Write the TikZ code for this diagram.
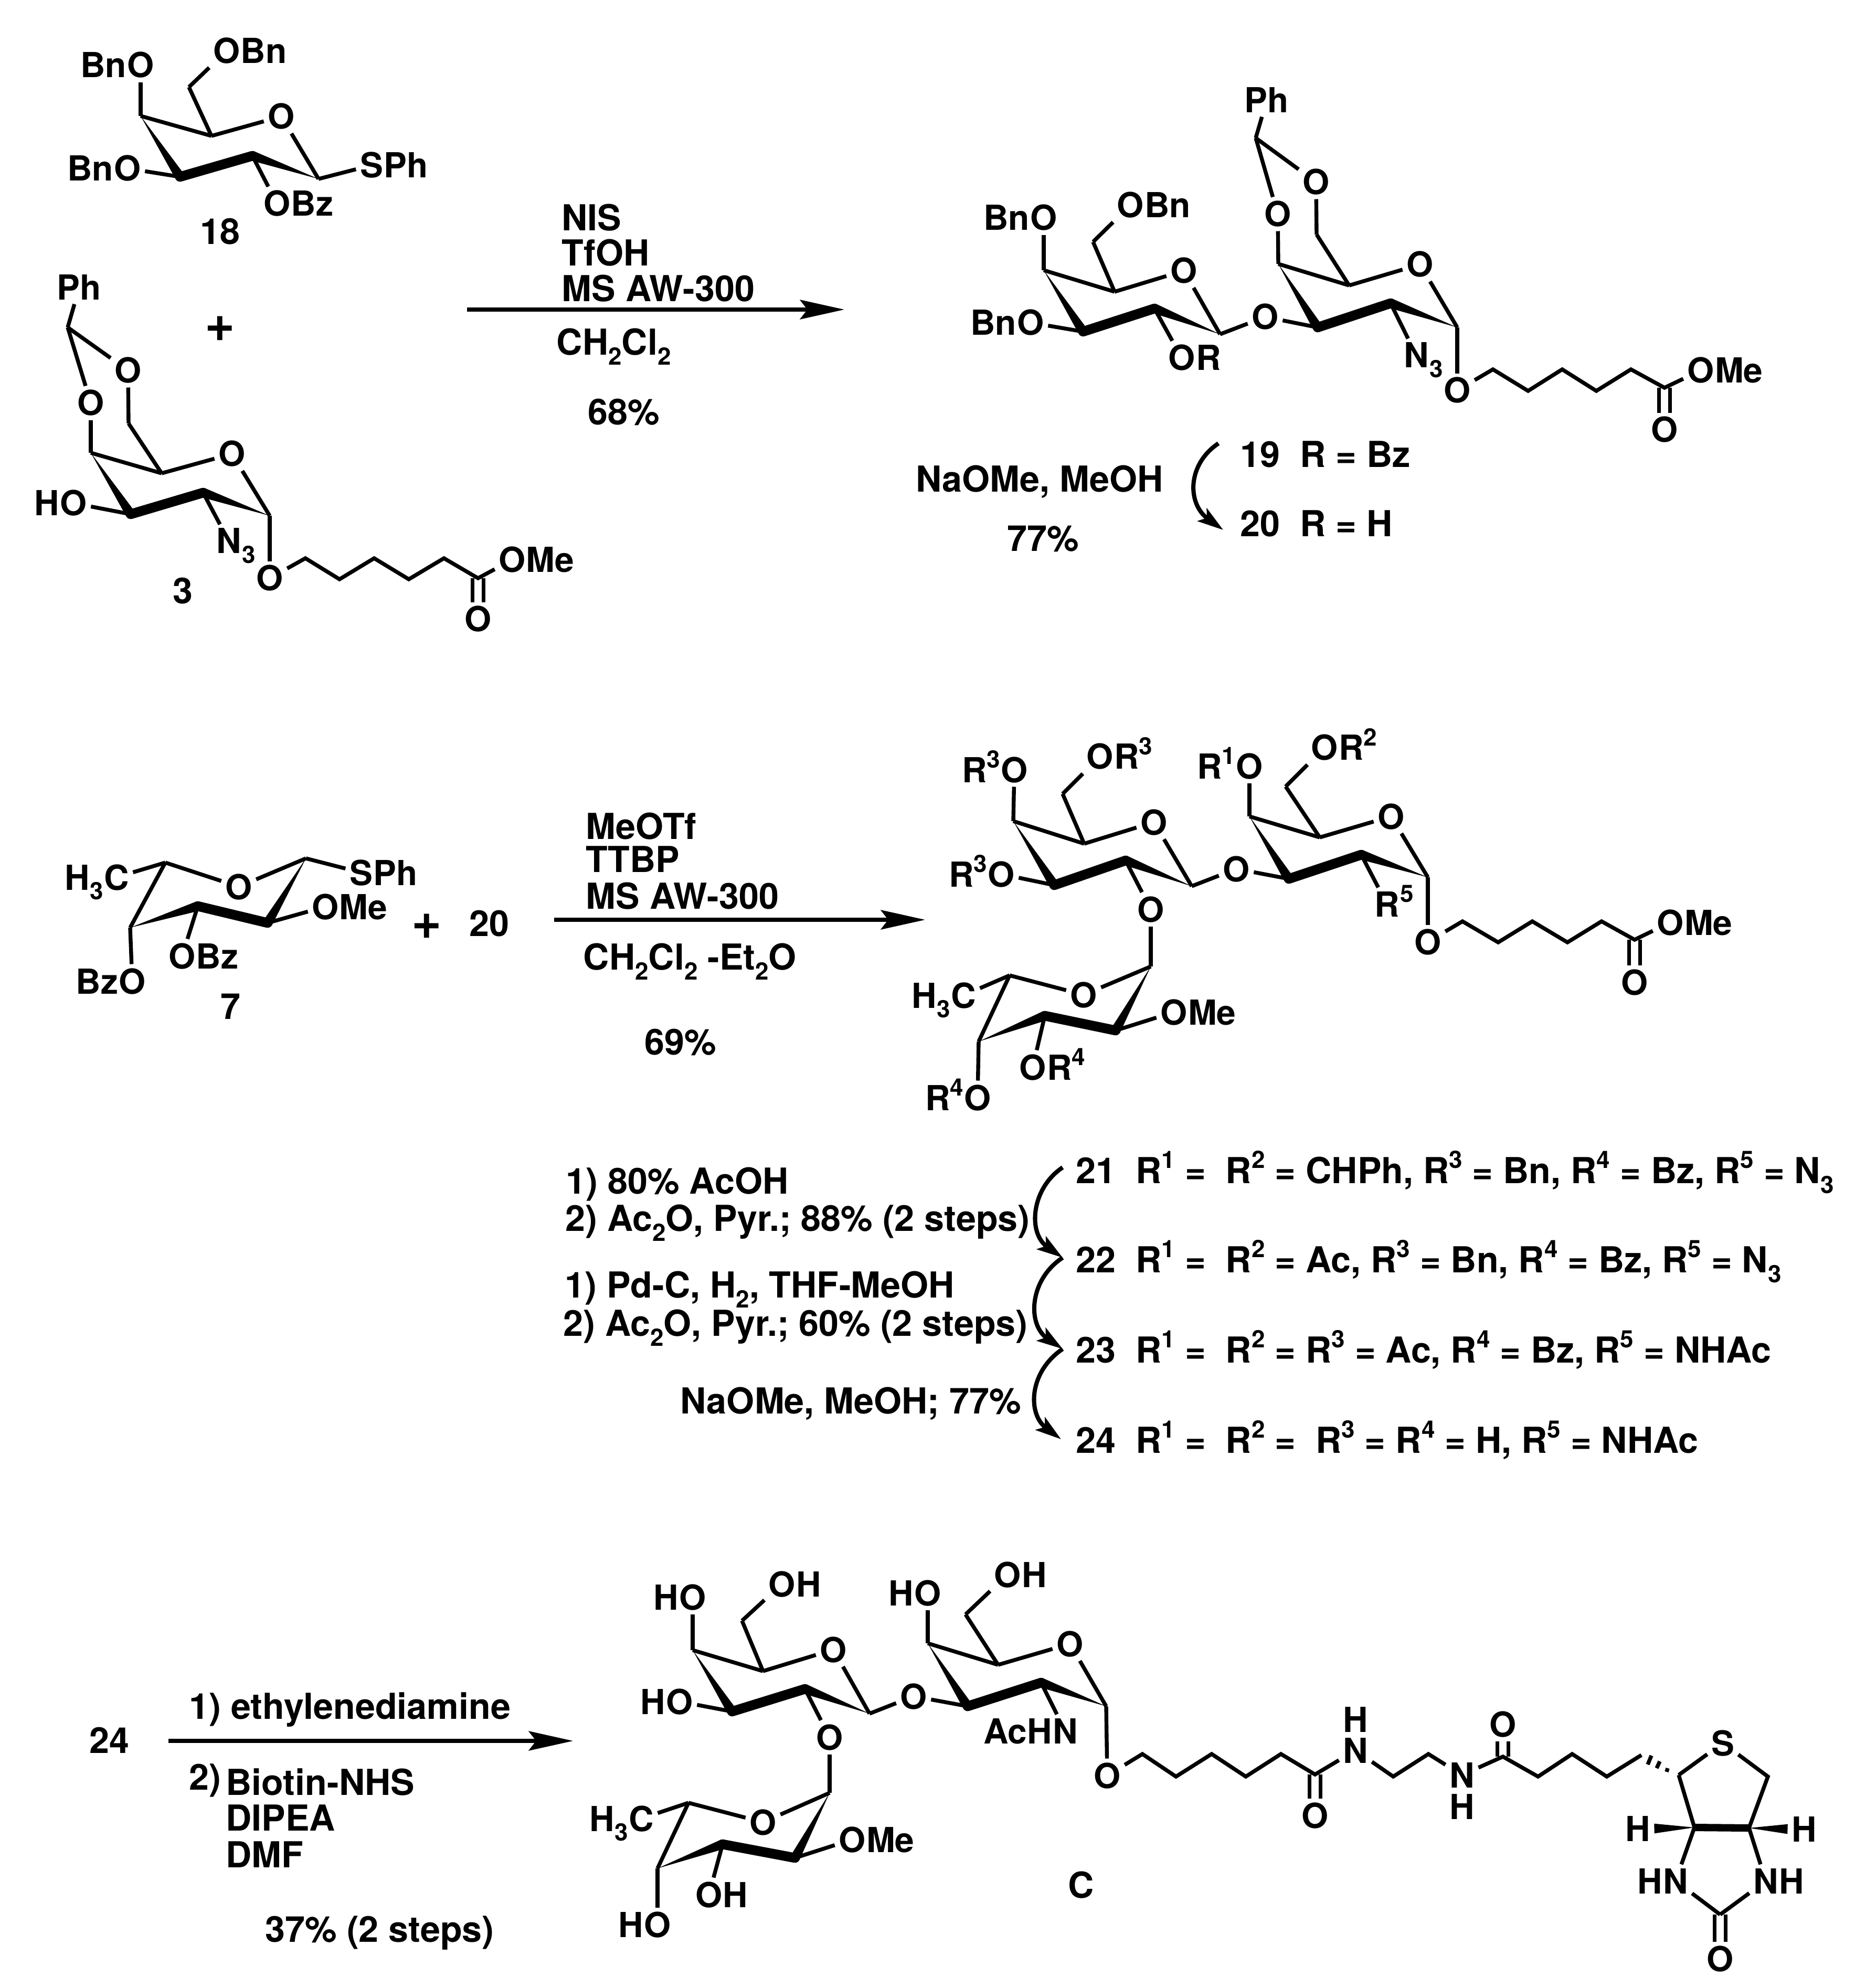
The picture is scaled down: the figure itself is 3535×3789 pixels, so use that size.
\documentclass[tikz,border=0pt]{standalone}
\usepackage{fontspec}
\setmainfont{TeX Gyre Heros}
\usetikzlibrary{calc,arrows.meta}
\newcommand\chemfont{\fontsize{18.7}{20}\selectfont\bfseries}
\newcommand\capfont{\fontsize{19.4}{21}\selectfont\bfseries}
\newcommand\sbs[1]{\raisebox{-0.28em}[0pt][0pt]{\fontsize{13}{13}\selectfont #1}}
\newcommand\sps[1]{\raisebox{0.42em}[0pt][0pt]{\fontsize{13}{13}\selectfont #1}}
\tikzset{
  atom/.style={rectangle,inner sep=2pt,font=\chemfont},
  aff/.style={inner sep=0pt,font=\chemfont},
  txt/.style={inner sep=0pt,font=\capfont,anchor=base west},
  ctr/.style={inner sep=0pt,font=\capfont,anchor=center},
  plusmark/.style={inner sep=0pt,font=\fontsize{28}{28}\selectfont\bfseries,anchor=center},
  bond/.style={line width=2.1pt,line cap=butt,line join=miter},
  boldb/.style={line width=5.3pt,line cap=round,line join=round},
  dbl/.style={line width=2pt,double,double distance=4pt},
  rxn/.style={line width=2.1pt,-{Stealth[length=24pt,width=10.5pt,inset=4pt]}},
  curv/.style={line width=2.3pt,-{Stealth[length=14pt,width=8.5pt,inset=3pt]}}
}
\newcommand\Cd[3]{\coordinate (#1) at (#2,#3);}
\newcommand\Lb[4]{\node[atom] (#1) at (#2,#3) {#4};}
\newcommand\Pre[2]{\node[aff,anchor=base east,xshift=2pt] (#1p) at (#1.base west) {#2};}
\newcommand\Suf[2]{\node[aff,anchor=base west,xshift=-2pt] (#1s) at (#1.base east) {#2};}
\newcommand\Tx[4]{\node[txt] (#1) at (#2,#3+24) {#4};}
\newcommand\Cn[4]{\node[ctr] (#1) at (#2,#3) {#4};}
\newcommand\Hl[3]{\node[aff] (#1) at (#2,#3) {H};}
\newcommand\Bd[2]{\draw[bond] (#1)--(#2);}
\newcommand\Bb[2]{\draw[boldb] (#1)--(#2);}
\newcommand\Db[2]{\draw[dbl] (#1)--(#2);}
\newcommand\Wd[2]{\fill (#1) -- ($(#2)!2.65pt!90:(#1)$) -- ($(#2)!2.65pt!-90:(#1)$) -- cycle;}
\begin{document}
\begin{tikzpicture}[x=0.01cm,y=-0.01cm]
\useasboundingbox (0,0) rectangle (3535,3789);
% ---------- 18
\Cd{a4}{268}{221}\Cd{a5}{403}{259}\Cd{a3}{343}{337}\Cd{a2}{481}{297}\Cd{a1}{607}{341}\Cd{a6}{360}{166}
\Lb{aO}{536}{222}{O}\Lb{aO6}{432}{97}{O}\Suf{aO6}{Bn}\Lb{aO4}{268}{124}{O}\Pre{aO4}{Bn}
\Lb{aO3}{243}{321}{O}\Pre{aO3}{Bn}\Lb{aO2}{528}{388}{O}\Suf{aO2}{Bz}\Lb{aS}{708}{315}{S}\Suf{aS}{Ph}
\Bd{a4}{a5}\Bd{a5}{aO}\Bd{aO}{a1}\Bd{a4}{aO4}\Bd{a3}{aO3}\Bd{a2}{aO2}\Bd{a1}{aS}\Bd{a5}{a6}\Bd{a6}{aO6}
\Wd{a4}{a3}\Wd{a1}{a2}\Bb{a3}{a2}
\Cn{l18}{419}{441}{18}\node[plusmark] (plus1) at (419,627) {+};
% ---------- 3
\Cd{bCH}{129}{624}\Cd{b6}{245}{807}\Cd{b4}{173}{863}\Cd{b5}{308}{902}\Cd{b3}{249}{980}\Cd{b2}{387}{939}\Cd{b1}{514}{983}
\Lb{bPh}{151}{548}{Ph}\Lb{bO1}{244}{706}{O}\Lb{bO2}{173}{768}{O}\Lb{bO}{442}{865}{O}\Lb{bOH}{140}{959}{O}\Pre{bOH}{H}
\Lb{bN}{436}{1031}{N}\Suf{bN}{\sbs{3}}\Lb{bOa}{514}{1102}{O}\Lb{bOM}{976}{1067}{O}\Suf{bOM}{Me}\Lb{bOd}{911}{1180}{O}
\Cd{bc1}{582}{1064}\Cd{bc2}{647}{1104}\Cd{bc3}{713}{1064}\Cd{bc4}{779}{1104}\Cd{bc5}{846}{1064}\Cd{bc6}{911}{1102}
\Db{bc6}{bOd}
\Bd{bCH}{bPh}\Bd{bCH}{bO1}\Bd{bCH}{bO2}\Bd{bO1}{b6}\Bd{bO2}{b4}\Bd{b6}{b5}\Bd{b4}{b5}\Bd{b5}{bO}\Bd{bO}{b1}
\Bd{b3}{bOH}\Bd{b2}{bN}\Bd{b1}{bOa}
\draw[bond] (bOa)--(bc1)--(bc2)--(bc3)--(bc4)--(bc5)--(bc6)--(bOM);
\Wd{b4}{b3}\Wd{b1}{b2}\Bb{b3}{b2}
\Cn{l3}{348}{1126}{3}
% ---------- reaction 1
\Tx{r1a}{1070}{415}{NIS}\Tx{r1b}{1070}{482}{TfOH}\Tx{r1c}{1070}{550}{MS AW-300}
\Tx{r1d}{1060}{652}{CH\sbs{2}Cl\sbs{2}}\Cn{r1e}{1189}{785}{68\%}
\Cd{r1s}{890}{590}\Cd{r1t}{1609}{590}\draw[rxn] (r1s)--(r1t);
% ---------- 19/20
\Cd{c4}{1989}{515}\Cd{c5}{2124}{556}\Cd{c3}{2064}{632}\Cd{c2}{2200}{588}\Cd{c1}{2325}{637}\Cd{c6}{2083}{461}
\Lb{cO}{2256}{516}{O}\Lb{cO6}{2154}{391}{O}\Suf{cO6}{Bn}\Lb{cO4}{1989}{415}{O}\Pre{cO4}{Bn}\Lb{cO3}{1964}{615}{O}\Pre{cO3}{Bn}
\Lb{cOR}{2252}{682}{O}\Suf{cOR}{R}\Lb{cOb}{2411}{604}{O}
\Cd{d4}{2436}{503}\Cd{d5}{2571}{544}\Cd{d3}{2511}{624}\Cd{d2}{2650}{578}\Cd{d1}{2777}{624}\Cd{d6}{2509}{447}\Cd{dCH}{2393}{263}
\Lb{dPh}{2414}{191}{Ph}\Lb{dO1}{2508}{347}{O}\Lb{dO2}{2435}{408}{O}\Lb{dO}{2706}{504}{O}\Lb{dN}{2699}{677}{N}\Suf{dN}{\sbs{3}}
\Lb{dOa}{2777}{744}{O}\Lb{dOM}{3241}{706}{O}\Suf{dOM}{Me}\Lb{dOd}{3172}{819}{O}
\Cd{dc1}{2845}{704}\Cd{dc2}{2912}{745}\Cd{dc3}{2977}{704}\Cd{dc4}{3042}{745}\Cd{dc5}{3108}{704}\Cd{dc6}{3172}{739}
\Db{dc6}{dOd}
\Bd{c4}{c5}\Bd{c5}{cO}\Bd{cO}{c1}\Bd{c4}{cO4}\Bd{c3}{cO3}\Bd{c2}{cOR}\Bd{c5}{c6}\Bd{c6}{cO6}\Bd{c1}{cOb}\Bd{cOb}{d3}
\Wd{c4}{c3}\Wd{c1}{c2}\Bb{c3}{c2}
\Bd{dCH}{dPh}\Bd{dCH}{dO1}\Bd{dCH}{dO2}\Bd{dO1}{d6}\Bd{dO2}{d4}\Bd{d6}{d5}\Bd{d4}{d5}\Bd{d5}{dO}\Bd{dO}{d1}\Bd{d2}{dN}\Bd{d1}{dOa}
\draw[bond] (dOa)--(dc1)--(dc2)--(dc3)--(dc4)--(dc5)--(dc6)--(dOM);
\Wd{d4}{d3}\Wd{d1}{d2}\Bb{d3}{d2}
\Tx{l19}{2363}{866}{19\ \ R = Bz}\Tx{l20}{2363}{998}{20\ \ R = H}
\Cn{r1f}{1981}{918}{NaOMe, MeOH}\Cn{r1g}{1988}{1027}{77\%}
\Cd{e19}{2322}{845}\Cd{e20}{2331}{1010}
\draw[curv] (e19) .. controls (2262,885) and (2262,960) .. (e20);
% ---------- 7
\Cd{f5}{315}{1644}\Cd{f1}{583}{1636}\Cd{f4}{248}{1768}\Cd{f3}{377}{1727}\Cd{f2}{510}{1759}
\Lb{fO}{455}{1690}{O}\Lb{fC}{222}{1672}{C}\Pre{fC}{H\sbs{3}}\Lb{fS}{688}{1663}{S}\Suf{fS}{Ph}
\Lb{fOM}{620}{1728}{O}\Suf{fOM}{Me}\Lb{fOB}{347}{1822}{O}\Suf{fOB}{Bz}\Lb{fOC}{252}{1870}{O}\Pre{fOC}{Bz}
\Bd{f5}{fC}\Bd{f5}{fO}\Bd{fO}{f1}\Bd{f1}{fS}\Bd{f5}{f4}\Bd{f2}{fOM}\Bd{f3}{fOB}\Bd{f4}{fOC}
\Wd{f1}{f2}\Wd{f4}{f3}\Bb{f3}{f2}
\Cn{l7}{439}{1918}{7}\node[plusmark] (plus2) at (813,1766) {+};\Cn{l20b}{932}{1760}{20}
% ---------- reaction 2
\Tx{r2a}{1116}{1575}{MeOTf}\Tx{r2b}{1116}{1638}{TTBP}\Tx{r2c}{1116}{1708}{MS AW-300}
\Tx{r2d}{1111}{1824}{CH\sbs{2}Cl\sbs{2} -Et\sbs{2}O}\Cn{r2e}{1297}{1986}{69\%}
\Cd{r2s}{1056}{1753}\Cd{r2t}{1763}{1753}\draw[rxn] (r2s)--(r2t);
% ---------- 21-24 structure
\Cd{g4}{1931}{1565}\Cd{g5}{2066}{1608}\Cd{g3}{2009}{1687}\Cd{g2}{2145}{1640}\Cd{g1}{2271}{1689}\Cd{g6}{2025}{1513}
\Lb{gO}{2199}{1567}{O}\Lb{gO6}{2096}{1442}{O}\Suf{gO6}{R\sps{3}}\Lb{gO4}{1933}{1467}{O}\Pre{gO4}{R\sps{3}}
\Lb{gO3}{1908}{1666}{O}\Pre{gO3}{R\sps{3}}\Lb{gOb}{2356}{1656}{O}\Lb{gOg}{2193}{1733}{O}
\Cd{h4}{2381}{1556}\Cd{h5}{2515}{1596}\Cd{h3}{2456}{1675}\Cd{h2}{2594}{1629}\Cd{h1}{2721}{1672}\Cd{h6}{2450}{1499}
\Lb{hO}{2651}{1556}{O}\Lb{hO6}{2524}{1425}{O}\Suf{hO6}{R\sps{2}}\Lb{hO4}{2381}{1460}{O}\Pre{hO4}{R\sps{1}}
\Lb{hR}{2643}{1723}{R}\Suf{hR}{\sps{5}}\Lb{hOa}{2721}{1795}{O}\Lb{hOM}{3183}{1758}{O}\Suf{hOM}{Me}\Lb{hOd}{3115}{1872}{O}
\Cd{hc1}{2787}{1756}\Cd{hc2}{2855}{1796}\Cd{hc3}{2920}{1756}\Cd{hc4}{2987}{1796}\Cd{hc5}{3052}{1756}\Cd{hc6}{3115}{1791}
\Db{hc6}{hOd}
\Bd{g4}{g5}\Bd{g5}{gO}\Bd{gO}{g1}\Bd{g4}{gO4}\Bd{g3}{gO3}\Bd{g2}{gOg}\Bd{g5}{g6}\Bd{g6}{gO6}\Bd{g1}{gOb}\Bd{gOb}{h3}
\Wd{g4}{g3}\Wd{g1}{g2}\Bb{g3}{g2}
\Bd{h4}{h5}\Bd{h5}{hO}\Bd{hO}{h1}\Bd{h4}{hO4}\Bd{h2}{hR}\Bd{h5}{h6}\Bd{h6}{hO6}\Bd{h1}{hOa}
\draw[bond] (hOa)--(hc1)--(hc2)--(hc3)--(hc4)--(hc5)--(hc6)--(hOM);
\Wd{h4}{h3}\Wd{h1}{h2}\Bb{h3}{h2}
\Cd{i5}{1924}{1859}\Cd{i1}{2193}{1842}\Cd{i4}{1865}{1985}\Cd{i3}{1991}{1936}\Cd{i2}{2126}{1964}
\Lb{iO}{2065}{1896}{O}\Lb{iC}{1836}{1897}{C}\Pre{iC}{H\sbs{3}}\Lb{iOM}{2237}{1929}{O}\Suf{iOM}{Me}
\Lb{iOB}{1968}{2034}{O}\Suf{iOB}{R\sps{4}}\Lb{iOC}{1863}{2092}{O}\Pre{iOC}{R\sps{4}}
\Bd{gOg}{i1}\Bd{i5}{iC}\Bd{i5}{iO}\Bd{iO}{i1}\Bd{i5}{i4}\Bd{i2}{iOM}\Bd{i3}{iOB}\Bd{i4}{iOC}
\Wd{i1}{i2}\Wd{i4}{i3}\Bb{i3}{i2}
% ---------- steps
\Tx{s1}{1078}{2251}{1) 80\% AcOH}\Tx{s2}{1077}{2322}{2) Ac\sbs{2}O, Pyr.; 88\% (2 steps)}
\Tx{s3}{1076}{2449}{1) Pd-C, H\sbs{2}, THF-MeOH}\Tx{s4}{1073}{2522}{2) Ac\sbs{2}O, Pyr.; 60\% (2 steps)}
\Tx{s5}{1296}{2670}{NaOMe, MeOH; 77\%}
\Cd{k1}{2025}{2225}\Cd{k2}{2025}{2397}\Cd{k3}{2025}{2571}\Cd{k4}{2022}{2743}
\draw[curv] (k1) .. controls (1965,2265) and (1958,2350) .. (k2);
\draw[curv] (k2) .. controls (1960,2440) and (1958,2525) .. (k3);
\draw[curv] (k3) .. controls (1960,2615) and (1958,2695) .. (k4);
\Tx{t21}{2050}{2231}{21\ \ R\sps{1} =\ \ R\sps{2} = CHPh, R\sps{3} = Bn, R\sps{4} = Bz, R\sps{5} = N\sbs{3}}
\Tx{t22}{2050}{2401}{22\ \ R\sps{1} =\ \ R\sps{2} = Ac, R\sps{3} = Bn, R\sps{4} = Bz, R\sps{5} = N\sbs{3}}
\Tx{t23}{2050}{2573}{23\ \ R\sps{1} =\ \ R\sps{2} = R\sps{3} = Ac, R\sps{4} = Bz, R\sps{5} = NHAc}
\Tx{t24}{2050}{2745}{24\ \ R\sps{1} =\ \ R\sps{2} =\ \ R\sps{3} = R\sps{4} = H, R\sps{5} = NHAc}
% ---------- reaction 3
\Cn{l24}{208}{3317}{24}\Cd{r3s}{321}{3318}\Cd{r3t}{1092}{3318}\draw[rxn] (r3s)--(r3t);
\Tx{r3a}{360}{3252}{1) ethylenediamine}\Tx{r3b}{360}{3387}{2)}\Tx{r3c}{430}{3397}{Biotin-NHS}
\Tx{r3d}{430}{3465}{DIPEA}\Tx{r3e}{430}{3535}{DMF}\Tx{r3f}{505}{3677}{37\% (2 steps)}
% ---------- C
\Cd{m4}{1320}{3145}\Cd{m5}{1454}{3185}\Cd{m3}{1395}{3262}\Cd{m2}{1534}{3219}\Cd{m1}{1657}{3266}\Cd{m6}{1414}{3089}
\Lb{mO}{1588}{3144}{O}\Lb{mO6}{1490}{3019}{O}\Suf{mO6}{H}\Lb{mO4}{1320}{3044}{O}\Pre{mO4}{H}\Lb{mO3}{1295}{3243}{O}\Pre{mO3}{H}
\Lb{mOb}{1741}{3233}{O}\Lb{mOg}{1581}{3311}{O}
\Cd{n4}{1768}{3132}\Cd{n5}{1902}{3173}\Cd{n3}{1844}{3252}\Cd{n2}{1984}{3207}\Cd{n1}{2108}{3252}\Cd{n6}{1840}{3077}
\Lb{nO}{2039}{3133}{O}\Lb{nO6}{1920}{3001}{O}\Suf{nO6}{H}\Lb{nO4}{1768}{3036}{O}\Pre{nO4}{H}
\Lb{nN}{2030}{3299}{N}\Pre{nN}{AcH}\Lb{nOa}{2110}{3384}{O}
\Bd{m4}{m5}\Bd{m5}{mO}\Bd{mO}{m1}\Bd{m4}{mO4}\Bd{m3}{mO3}\Bd{m2}{mOg}\Bd{m5}{m6}\Bd{m6}{mO6}\Bd{m1}{mOb}\Bd{mOb}{n3}
\Wd{m4}{m3}\Wd{m1}{m2}\Bb{m3}{m2}
\Bd{n4}{n5}\Bd{n5}{nO}\Bd{nO}{n1}\Bd{n4}{nO4}\Bd{n2}{nN}\Bd{n5}{n6}\Bd{n6}{nO6}\Bd{n1}{nOa}
\Wd{n4}{n3}\Wd{n1}{n2}\Bb{n3}{n2}
\Cd{o5}{1312}{3436}\Cd{o1}{1581}{3417}\Cd{o4}{1253}{3561}\Cd{o3}{1377}{3515}\Cd{o2}{1515}{3541}
\Lb{oO}{1454}{3473}{O}\Lb{oC}{1222}{3466}{C}\Pre{oC}{H\sbs{3}}\Lb{oOM}{1624}{3506}{O}\Suf{oOM}{Me}
\Lb{oOB}{1351}{3611}{O}\Suf{oOB}{H}\Lb{oOC}{1253}{3668}{O}\Pre{oOC}{H}
\Bd{mOg}{o1}\Bd{o5}{oC}\Bd{o5}{oO}\Bd{oO}{o1}\Bd{o5}{o4}\Bd{o2}{oOM}\Bd{o3}{oOB}\Bd{o4}{oOC}
\Wd{o1}{o2}\Wd{o4}{o3}\Bb{o3}{o2}
\Cn{lC}{2060}{3593}{C}
% chain and biotin
\Cd{p1}{2177}{3343}\Cd{p2}{2241}{3386}\Cd{p3}{2309}{3343}\Cd{p4}{2374}{3386}\Cd{p5}{2441}{3343}\Cd{p6}{2506}{3382}
\Lb{pOd}{2506}{3460}{O}\Lb{pN1}{2583}{3336}{N}\Hl{pH1}{2583}{3277}
\Cd{p7}{2655}{3386}\Cd{p8}{2722}{3343}\Lb{pN2}{2786}{3383}{N}\Hl{pH2}{2786}{3443}
\Cd{p9}{2864}{3348}\Lb{pOe}{2864}{3286}{O}
\Cd{p10}{2931}{3386}\Cd{p11}{2996}{3343}\Cd{p12}{3062}{3386}\Cd{p13}{3128}{3345}
\Cd{q1}{3199}{3383}\Lb{qS}{3283}{3322}{S}\Cd{q2}{3369}{3386}\Cd{q3}{3229}{3483}\Cd{q4}{3333}{3484}
\Lb{qH1}{3121}{3485}{H}\Lb{qH2}{3438}{3486}{H}\Lb{qN1}{3193}{3585}{N}\Pre{qN1}{H}\Lb{qN2}{3365}{3585}{N}\Suf{qN2}{H}
\Cd{q5}{3278}{3649}\Lb{qO}{3278}{3733}{O}
\Db{p6}{pOd}\Db{p9}{pOe}\Db{q5}{qO}
\draw[bond] (nOa)--(p1)--(p2)--(p3)--(p4)--(p5)--(p6)--(pN1);
\draw[bond] (pN1)--(p7)--(p8)--(pN2);
\draw[bond] (pN2)--(p9)--(p10)--(p11)--(p12)--(p13);
\draw[bond] (q1)--(qS);\draw[bond] (qS)--(q2)--(q4);\draw[bond] (q1)--(q3);
\Bd{q3}{qN1}\Bd{q4}{qN2}\Bd{qN1}{q5}\Bd{qN2}{q5}
\draw[line width=4pt] (q3)--(q4);
\Wd{q3}{qH1.east}\Wd{q4}{qH2.west}
\draw[bond] (3147,3346)--(3140,3363) (3163,3357)--(3157,3370) (3178,3370)--(3176,3377);
\end{tikzpicture}
\end{document}
